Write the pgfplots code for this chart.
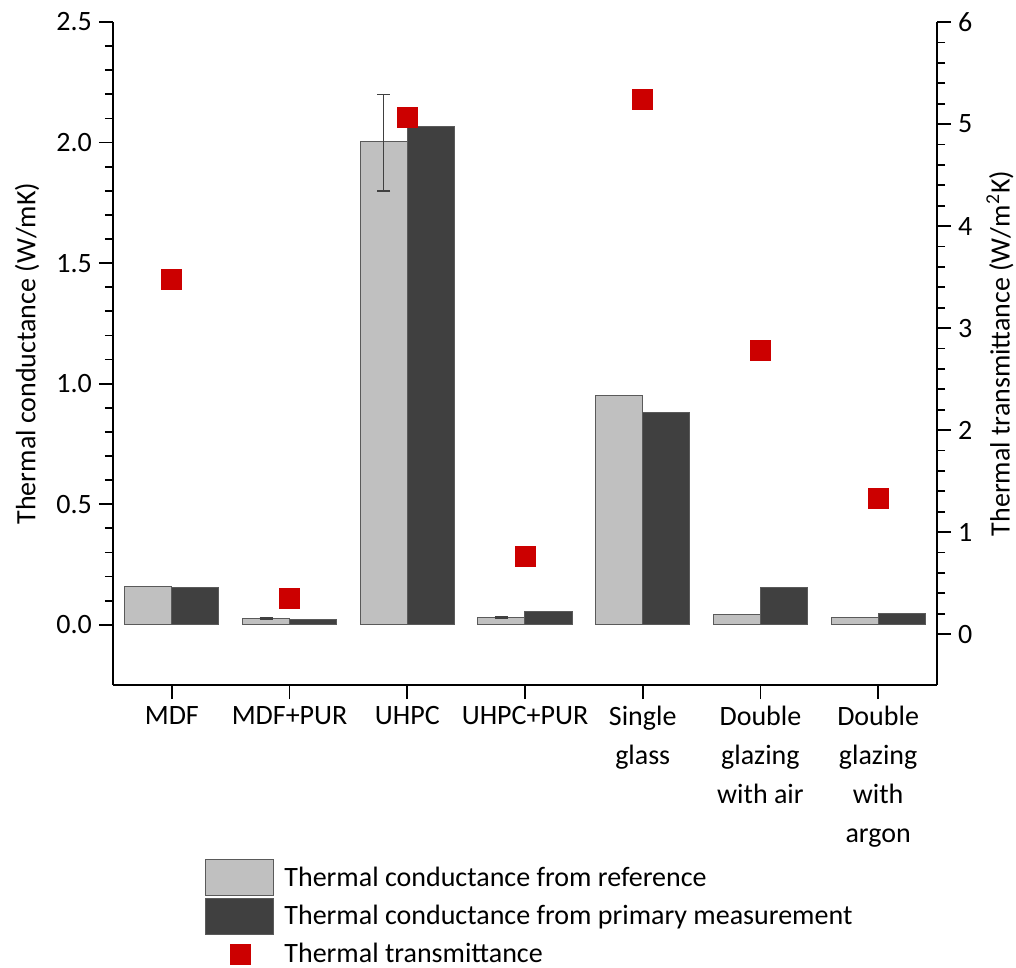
\documentclass[border=0pt]{standalone}
\usepackage{fontspec}
\setmainfont{Carlito}
\usepackage{pgfplots}
\usepackage{pgfplotstable}
\pgfplotsset{compat=1.18}

\definecolor{lightbar}{HTML}{C0C0C0}
\definecolor{darkbar}{HTML}{404040}
\definecolor{edgegray}{HTML}{5A5A5A}
\definecolor{ured}{HTML}{CC0000}

% conductance (W/mK) and transmittance (W/m2K) per material
\pgfplotstableread{
x ref   meas  U
0 0.160 0.153 3.48
1 0.026 0.021 0.35
2 2.003 2.066 5.06
3 0.030 0.053 0.76
4 0.950 0.880 5.24
5 0.041 0.154 2.78
6 0.028 0.046 1.33
}\materials

\pgfplotsset{
  common/.style={
    scale only axis, width=412pt, height=331.5pt,
    xmin=-0.5, xmax=6.5,
    tick align=outside,
    major tick length=7pt, minor tick length=4pt,
    every tick/.style={black, line width=0.9pt},
    axis line style={line width=1pt},
    tick label style={font=\fontsize{14}{19.5}\selectfont},
    label style={font=\fontsize{14}{17}\selectfont},
    /pgf/number format/assume math mode=true,
  }
}

\begin{document}
\begin{tikzpicture}
\begin{axis}[common, name=ax,
  ymin=-0.25, ymax=2.5,
  axis x line*=bottom, axis y line*=left,
  xtick={0,...,6},
  xticklabels={MDF, MDF+PUR, UHPC, UHPC+PUR, {Single\\glass}, {Double\\glazing\\with air}, {Double\\glazing\\with\\argon}},
  xticklabel style={align=center},
  ytick={0,0.5,...,2.5}, minor y tick num=4,
  yticklabel style={/pgf/number format/.cd, fixed, fixed zerofill, precision=1},
  ylabel={Thermal conductance (W/mK)},
  ylabel style={at={(axis description cs:-0.1044,0.5)}, anchor=center},
  legend style={at={(rel axis cs:0.1117,-0.2624)}, anchor=north west,
    draw=none, fill=none, inner sep=0pt, row sep=0.75pt,
    font=\fontsize{14}{17}\selectfont,
    /tikz/every odd column/.style={column sep=5pt},
    nodes={inner sep=0pt, anchor=west}},
  legend cell align=left,
]
\addplot[ybar, bar width=0.4, bar shift=-0.2, fill=lightbar, draw=edgegray, line width=0.5pt,
  legend image code/.code={\draw[fill=lightbar, draw=edgegray, line width=0.5pt] (0pt,-9pt) rectangle (34pt,9pt);}]
  table[x=x, y=ref]{\materials};
\addlegendentry{Thermal conductance from reference}
\addplot[ybar, bar width=0.4, bar shift=0.2, fill=darkbar, draw=edgegray, line width=0.5pt,
  legend image code/.code={\draw[fill=darkbar, draw=edgegray, line width=0.5pt] (0pt,-9pt) rectangle (34pt,9pt);}]
  table[x=x, y=meas]{\materials};
\addlegendentry{Thermal conductance from primary measurement}
% error bars on the reference values
\addplot[forget plot, draw=none, mark=none,
  error bars/.cd, y dir=both, y explicit,
  error bar style={draw=black!75, line width=0.6pt},
  error mark options={rotate=90, mark size=3.25pt, draw=black!75, line width=0.8pt}]
  coordinates {(0.8,0.026) +- (0,0.001) (1.8,2.0) +- (0,0.2) (2.8,0.030) +- (0,0.001)};
\addlegendimage{legend image code/.code={\path[draw=none, fill=none] (0pt,-9pt) rectangle (34pt,9pt); \fill[ured] (12pt,-5pt) rectangle (22pt,5pt);}}
\addlegendentry{Thermal transmittance}
\end{axis}

\begin{axis}[common,
  ymin=-0.5, ymax=6,
  axis y line*=right, axis x line=none,
  ytick={0,...,6}, minor y tick num=4,
  ylabel={Thermal transmittance (W/m\textsuperscript{2}K)},
  ylabel style={at={(axis description cs:1.0765,0.5)}, anchor=center, rotate=0},
]
\addplot[only marks, mark=square*, mark size=5pt, color=ured, mark options={fill=ured, draw=ured, line width=0pt}]
  table[x=x, y=U]{\materials};
\end{axis}

\pgfresetboundingbox
\path[use as bounding box] ([xshift=-56.5pt,yshift=-141pt]ax.south west) rectangle ([xshift=39.5pt,yshift=11pt]ax.north east);
\end{tikzpicture}
\end{document}
